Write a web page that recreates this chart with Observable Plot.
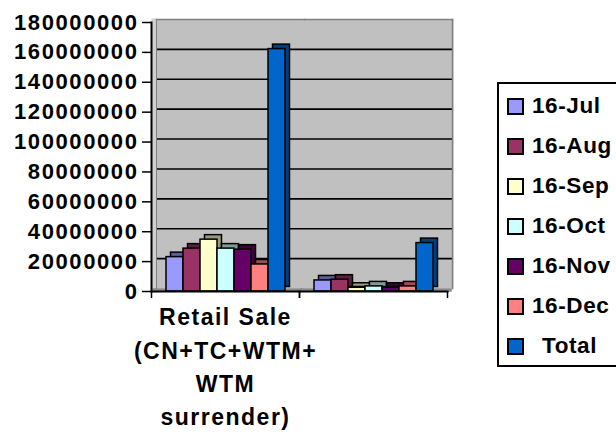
<!DOCTYPE html>
<html>
<head>
<meta charset="utf-8">
<script src="https://cdn.jsdelivr.net/npm/d3@7"></script>
<script src="https://cdn.jsdelivr.net/npm/@observablehq/plot@0.6"></script>
<style>
  body { margin: 0; background: #fff; overflow: hidden; }
  #wrap { position: relative; width: 616px; height: 434px; overflow: hidden; font-family: "Liberation Sans", Arial, sans-serif; font-weight: bold; color: #000; }
  #chart svg [aria-label="y-axis tick label"] text { letter-spacing: 1.6px; }
  #chart svg [aria-label="fx-axis tick label"] text { letter-spacing: 1.5px; }
  #legend { position: absolute; left: 497px; top: 82px; width: 130px; height: 285px; border: 2px solid #000; box-sizing: border-box; padding-top: 2px; }
  .item { height: 40px; line-height: 40px; display: flex; align-items: center; font-size: 22.5px; letter-spacing: 0.6px; white-space: nowrap; }
  .sw { width: 13px; height: 13px; border: 2px solid #000; margin-left: 8px; margin-right: 8px; flex: none; }
  .item.total .lbl { padding-left: 10px; }
</style>
</head>
<body>
<div id="wrap">
  <div id="chart"></div>
  <div id="legend"></div>
</div>
<script>
// ---- data ----
const categories = ["Retail Sale\n(CN+TC+WTM+\nWTM\nsurrender)", ""];
const series = ["16-Jul", "16-Aug", "16-Sep", "16-Oct", "16-Nov", "16-Dec", "Total"];
const seriesColors = ["#9999FF", "#993366", "#FFFFCC", "#CCFFFF", "#660066", "#FF8080", "#0066CC"];
const retailSale = [23.0e6, 28.7e6, 34.7e6, 28.7e6, 28.0e6, 18.1e6, 162.2e6];
const secondGroup = [7.4e6, 7.9e6, 2.5e6, 3.4e6, 2.5e6, 3.4e6, 32.4e6];
const yTicks = [0, 20000000, 40000000, 60000000, 80000000, 100000000, 120000000, 140000000, 160000000, 180000000];

const groups = [retailSale, secondGroup];
const rows = categories.flatMap((c, i) => series.map((s, j) => ({category: c, series: s, value: groups[i][j]})));

// ---- layout ----
const W = 616, H = 434, mL = 151, mR = 169, mT = 22, mB = 143;
const facetW = (W - mL - mR) / categories.length;
const wall = {dx: 5, dy: -3};
const depth = {dx: 4.5, dy: -4.5};
const sideColor = new Map(series.map((s, i) => [s, d3.color(seriesColors[i]).darker(1.4).formatHex()]));

const chart = Plot.plot({
  width: W, height: H,
  marginLeft: mL, marginRight: mR, marginTop: mT, marginBottom: mB,
  style: {fontFamily: "'Liberation Sans', Arial, sans-serif", fontWeight: "bold", fontSize: "22px", color: "black", background: "white", overflow: "visible"},
  fx: {domain: categories, padding: 0},
  x: {domain: series, paddingInner: 0, paddingOuter: 0.7, axis: null},
  y: {domain: [0, 180000000]},
  color: {domain: series, range: seriesColors},
  marks: [
    // back wall (overlapping slightly to avoid a seam between facets)
    Plot.frame({fill: "#c0c0c0", stroke: "none", insetLeft: -1, insetRight: -1, ...wall}),
    // side wall strip and floor
    Plot.frame({anchor: "left", facetAnchor: "left", stroke: "#d0d0d0", strokeWidth: 5, dx: 2.5, dy: -1.5}),
    Plot.frame({anchor: "bottom", stroke: "#8c8c8c", strokeWidth: 3.5, dx: 2.5, dy: -1.5}),
    // gridlines on back wall
    Plot.gridY(yTicks.slice(1, -1), {...wall, stroke: "black", strokeOpacity: 1, strokeWidth: 1.6}),
    Plot.frame({anchor: "top", stroke: "#808080", strokeWidth: 1.5, ...wall}),
    Plot.frame({anchor: "right", facetAnchor: "right", stroke: "#808080", strokeWidth: 1.5, ...wall}),
    Plot.frame({anchor: "left", facetAnchor: "left", stroke: "#808080", strokeWidth: 1, ...wall}),
    // 3D bars: depth (side/top) then front
    Plot.barY(rows, {fx: "category", x: "series", y: "value", fill: d => sideColor.get(d.series), stroke: "black", strokeWidth: 1.5, inset: 0, ...depth}),
    Plot.barY(rows, {fx: "category", x: "series", y: "value", fill: "series", stroke: "black", strokeWidth: 1.5, inset: 0}),
    // axis lines
    Plot.frame({anchor: "left", facetAnchor: "left", stroke: "black", strokeWidth: 2}),
    Plot.frame({anchor: "bottom", stroke: "black", strokeWidth: 2}),
    // axes
    Plot.axisY(yTicks, {tickFormat: d3.format("d"), tickSize: 9, tickPadding: 4, label: null, strokeWidth: 1.5, fontSize: 22}),
    Plot.axisFx({anchor: "bottom", tickSize: 0, tickPadding: 10, lineHeight: 1.45, fontSize: 23, label: null}),
    Plot.axisFx({anchor: "bottom", tickSize: 7, fill: "none", strokeWidth: 1.5, label: null, dx: -facetW / 2}),
    Plot.axisFx({anchor: "bottom", tickSize: 7, fill: "none", strokeWidth: 1.5, label: null, dx: facetW / 2})
  ]
});
document.getElementById("chart").appendChild(chart);

// ---- legend ----
const legend = document.getElementById("legend");
series.forEach((s, i) => {
  const item = document.createElement("div");
  item.className = "item" + (s === "Total" ? " total" : "");
  const sw = document.createElement("span");
  sw.className = "sw";
  sw.style.background = seriesColors[i];
  const lbl = document.createElement("span");
  lbl.className = "lbl";
  lbl.textContent = s;
  item.appendChild(sw);
  item.appendChild(lbl);
  legend.appendChild(item);
});
</script>
</body>
</html>
